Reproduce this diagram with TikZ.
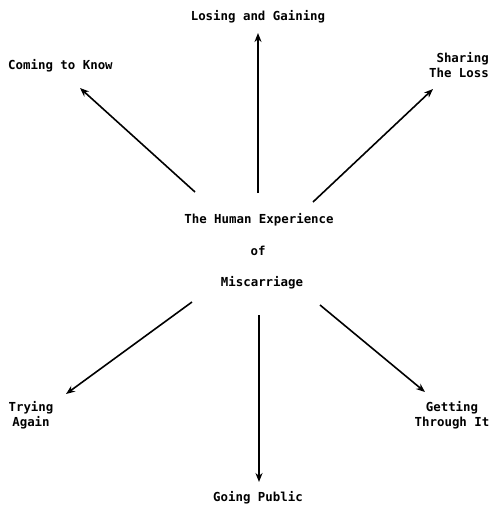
\documentclass[tikz,border=0pt]{standalone}
\usepackage{fontspec}
\setmonofont{DejaVu Sans Mono}
\usetikzlibrary{arrows.meta}
\begin{document}
\begin{tikzpicture}[x=1pt,y=-1pt,
  lbl/.style={font=\ttfamily\bfseries\fontsize{12.4}{15}\selectfont, inner sep=0pt},
  ray/.style={line width=1.6pt, -{Stealth[length=9pt,width=7pt]}}]
\useasboundingbox (0,0) rectangle (492,509);
% hub text
\node[lbl] (t1) at (259,220) {The Human Experience};
\node[lbl] (t2) at (258,251) {of};
\node[lbl] (t3) at (262,283) {Miscarriage};
% outer labels
\node[lbl] (lose) at (258,17) {Losing and Gaining};
\node[lbl, anchor=west] (know) at (8,66) {Coming to Know};
\node[lbl, align=right, anchor=east] (share) at (489,65) {Sharing\\The Loss};
\node[lbl, align=center] (try) at (31,415) {Trying\\Again};
\node[lbl, align=center] (get) at (452,415) {Getting\\Through It};
\node[lbl] (pub) at (258,498) {Going Public};
% arrow ends
\coordinate (s1) at (258,193); \coordinate (e1) at (258,33);
\coordinate (s2) at (195,192); \coordinate (e2) at (80,88);
\coordinate (s3) at (313,202); \coordinate (e3) at (433,89);
\coordinate (s4) at (192,302); \coordinate (e4) at (66,394);
\coordinate (s5) at (320,305); \coordinate (e5) at (425,392);
\coordinate (s6) at (259,315); \coordinate (e6) at (259,482);
\draw[ray] (s1) -- (e1);
\draw[ray] (s2) -- (e2);
\draw[ray] (s3) -- (e3);
\draw[ray] (s4) -- (e4);
\draw[ray] (s5) -- (e5);
\draw[ray] (s6) -- (e6);
\end{tikzpicture}
\end{document}
